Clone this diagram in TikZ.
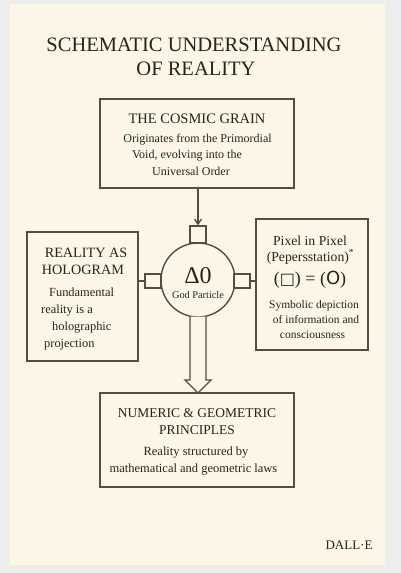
\documentclass[tikz,border=0pt]{standalone}
\usepackage{fontspec}
\usetikzlibrary{arrows.meta}
\setmainfont{Liberation Serif}
\newfontfamily\dejavu{DejaVu Sans}
\definecolor{paper}{HTML}{FCF6E7}
\definecolor{outer}{HTML}{EDEDED}
\definecolor{ink}{HTML}{27241D}
\definecolor{edge}{HTML}{564D3E}
\tikzset{
  box/.style={draw=edge, line width=1.6pt, fill=paper, inner sep=0pt},
  txt/.style={anchor=base, text=ink, inner sep=0pt},
  conn/.style={draw=edge, line width=1.4pt},
  fs/.style={font=\fontsize{#1}{#1}\selectfont}
}
\begin{document}
\begin{tikzpicture}[x=1pt,y=-1pt]
\useasboundingbox (0,0) rectangle (401,573);
\fill[outer] (0,0) rectangle (401,573);
\fill[paper] (10,4) rectangle (385,565);

% title
\node[txt, fs=20.5] (t1) at (194,51) {SCHEMATIC UNDERSTANDING};
\node[txt, fs=20.5] (t2) at (196,75) {OF REALITY};

% top box
\node[box, minimum width=194pt, minimum height=89pt] (cg) at (197,143.5) {};
\node[txt, fs=14.5] (cgT) at (197,123) {THE COSMIC GRAIN};
\node[txt, fs=12] (cg1) at (197.5,142) {Originates from the Primordial};
\node[txt, fs=12] (cg2) at (187,158) {Void, evolving into the};
\node[txt, fs=12] (cg3) at (191,175) {Universal Order};

% left box
\node[box, minimum width=111pt, minimum height=129pt] (ho) at (82.5,296.5) {};
\node[txt, fs=14.2] (hoT1) at (86,257) {REALITY AS};
\node[txt, fs=14.2] (hoT2) at (83,274) {HOLOGRAM};
\node[txt, fs=12.4, anchor=base west] (ho1) at (49,296) {Fundamental};
\node[txt, fs=12.4, anchor=base west] (ho2) at (41,313) {reality is a};
\node[txt, fs=12.4, anchor=base west] (ho3) at (52,330) {holographic};
\node[txt, fs=12.4, anchor=base west] (ho4) at (44,347) {projection};

% right box
\node[box, minimum width=112pt, minimum height=131pt] (px) at (312,284.5) {};
\node[txt, fs=13.7] (px1) at (310,245) {Pixel in Pixel};
\node[txt, fs=13.7] (px2) at (310.5,261) {(Pepersstation)\textsuperscript{*}};
\node[txt, fs=18] (px3) at (310,284) {({\dejavu\fontsize{16}{16}\selectfont □}) = ({\dejavu\fontsize{18}{18}\selectfont O})};
\node[txt, fs=11.5] (px4) at (314,308) {Symbolic depiction};
\node[txt, fs=11.5] (px5) at (316,323) {of information and};
\node[txt, fs=11.5] (px6) at (312.5,338) {consciousness};

% bottom box
\node[box, minimum width=194pt, minimum height=94pt] (ng) at (197,440) {};
\node[txt, fs=13.5] (ngT1) at (197,417) {NUMERIC \& GEOMETRIC};
\node[txt, fs=13.5] (ngT2) at (197,434) {PRINCIPLES};
\node[txt, fs=12.5] (ng1) at (196,455) {Reality structured by};
\node[txt, fs=12.5] (ng2) at (193.5,472) {mathematical and geometric laws};

% centre
\node[draw=edge, line width=1.4pt, fill=paper, circle, minimum size=74pt, inner sep=0pt] (gp) at (198,280) {};
\node[txt, fs=24] (gpD) at (198,283) {Δ0};
\node[txt, fs=10.3] (gpL) at (198,298) {God Particle};

\node[draw=edge, line width=1.4pt, fill=paper, minimum width=16pt, minimum height=17pt, inner sep=0pt] (sqT) at (198,234.5) {};
\node[draw=edge, line width=1.4pt, fill=paper, minimum width=16pt, minimum height=14pt, inner sep=0pt] (sqL) at (153,281) {};
\node[draw=edge, line width=1.4pt, fill=paper, minimum width=16pt, minimum height=14pt, inner sep=0pt] (sqR) at (242,281) {};

\draw[conn, -{Straight Barb[length=5pt,width=7pt]}] (cg.south -| sqT) -- (sqT.north);
\draw[conn] (sqL.west) -- (ho.east |- sqL.west);
\draw[conn] (sqR.east) -- (px.west |- sqR.east);

% hollow arrow
\draw[conn, fill=paper, line join=miter]
  (190,316.5) -- (190,380) -- (185,380) -- (198,393) -- (211,380) -- (206,380) -- (206,316.5);

\node[txt, fs=13] (dalle) at (349,549) {DALL·E};
\end{tikzpicture}
\end{document}
